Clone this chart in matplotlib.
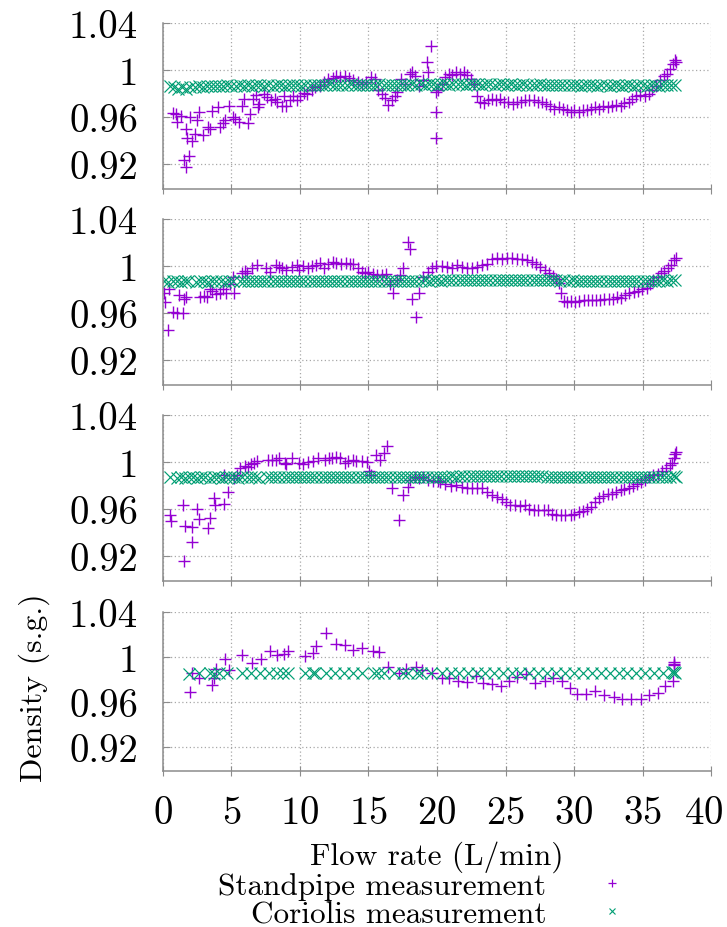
import matplotlib.pyplot as plt
from matplotlib.lines import Line2D
from matplotlib.transforms import ScaledTranslation

plt.rcParams['font.family'] = 'cmr10'
plt.rcParams['mathtext.fontset'] = 'cm'
plt.rcParams['axes.formatter.use_mathtext'] = True

PURPLE = '#9400d3'
GREEN = '#009e73'
GRAY = '#8c8c8c'

y_ticks = [0.92, 0.96, 1.00, 1.04]
y_tick_labels = ['0.92', '0.96', '1', '1.04']
x_ticks = [0, 5, 10, 15, 20, 25, 30, 35, 40]

# ---- panel 1 ----
std1_x = [0.75, 0.95, 1.05, 1.3, 1.5, 1.7, 1.9, 1.7, 1.75, 2.0, 2.1, 2.3, 2.5, 2.65, 2.95,
          3.25, 3.45, 3.55, 4.05, 4.15, 4.35, 4.5, 4.8, 5.1, 5.25, 5.55, 5.8, 5.9, 6.2, 6.35,
          6.55, 6.8, 6.9, 7.0, 7.35, 7.6, 7.85, 8.15, 8.35, 8.7, 8.8, 9.0, 9.3, 9.5, 9.8,
          10.0, 10.3, 10.5, 10.85, 11.1, 11.45, 11.75, 12.05, 12.4, 12.65, 12.9, 13.25, 13.6,
          13.9, 14.25, 14.5, 14.85, 15.2, 15.45, 15.7, 15.95, 16.2, 16.45, 16.7, 16.9, 17.1,
          17.35, 17.65, 18.0, 18.2, 18.4, 18.65, 19.0, 19.25, 19.35, 19.55, 19.9, 19.95, 19.9,
          20.1, 20.35, 20.6, 20.85, 21.1, 21.4, 21.7, 21.95, 22.2, 22.45, 22.7, 22.9, 23.15,
          23.4, 23.7, 24.0, 24.3, 24.6, 24.9, 25.2, 25.55, 25.85, 26.1, 26.45, 26.75, 27.05,
          27.35, 27.65, 27.95, 28.25, 28.55, 28.9, 29.2, 29.5, 29.75, 30.0, 30.35, 30.65,
          30.95, 31.25, 31.55, 31.85, 32.15, 32.45, 32.75, 33.1, 33.4, 33.65, 34.0, 34.25,
          34.55, 34.85, 35.15, 35.45, 35.7, 36.0, 36.3, 36.55, 36.8, 37.0, 37.2, 37.4, 37.45]
std1_y = [0.963, 0.962, 0.9555, 0.9605, 0.923, 0.917, 0.9265, 0.950, 0.942, 0.960, 0.939,
          0.9455, 0.957, 0.964, 0.9445, 0.951, 0.950, 0.965, 0.968, 0.951, 0.955, 0.957, 0.969,
          0.960, 0.958, 0.9555, 0.969, 0.975, 0.955, 0.9625, 0.975, 0.979, 0.968, 0.971,
          0.9795, 0.9765, 0.974, 0.975, 0.9725, 0.9695, 0.978, 0.969, 0.9745, 0.978, 0.974,
          0.9775, 0.980, 0.9795, 0.983, 0.985, 0.9865, 0.9895, 0.992, 0.993, 0.995, 0.994,
          0.995, 0.993, 0.9915, 0.9895, 0.988, 0.990, 0.994, 0.9925, 0.9825, 0.9795, 0.976,
          0.970, 0.974, 0.9775, 0.9815, 0.9925, 0.988, 0.9965, 0.9985, 0.995, 0.9865, 0.991,
          1.0065, 0.9985, 1.0205, 0.981, 0.964, 0.942,
          0.9825, 0.988, 0.994, 0.9965, 0.996, 0.998, 0.9965, 0.998, 0.996, 0.9925, 0.988,
          0.9775, 0.973, 0.972, 0.974, 0.975, 0.974, 0.975, 0.9725, 0.9725, 0.971, 0.9725,
          0.973, 0.974, 0.974, 0.974, 0.973, 0.9725, 0.971, 0.969, 0.967, 0.968, 0.967, 0.966,
          0.964, 0.9655, 0.9645, 0.966, 0.9655, 0.967, 0.968, 0.967, 0.969, 0.968, 0.969,
          0.970, 0.9695, 0.972, 0.973, 0.975, 0.9775, 0.979, 0.978, 0.9795, 0.9825, 0.9865,
          0.991, 0.995, 0.9965, 1.001, 1.005, 1.008, 1.0065]
cor1_x = [0.5, 0.8, 1.1, 1.4, 1.7, 2.0, 2.3, 2.6, 2.9, 3.2,
          3.5, 3.8, 4.1, 4.4, 4.7, 5.0, 5.3, 5.6, 5.9, 6.2,
          6.5, 6.8, 7.1, 7.4, 7.7, 8.0, 8.3, 8.6, 8.9, 9.2,
          9.5, 9.8, 10.1, 10.4, 10.7, 11.0, 11.3, 11.6, 11.9, 12.2,
          12.5, 12.8, 13.1, 13.4, 13.7, 14.0, 14.3, 14.6, 14.9, 15.2,
          15.5, 15.8, 16.1, 16.4, 16.7, 17.0, 17.3, 17.6, 17.9, 18.2,
          18.5, 18.8, 19.1, 19.4, 19.7, 20.0, 20.3, 20.6, 20.9, 21.2,
          21.5, 21.8, 22.1, 22.4, 22.7, 23.0, 23.3, 23.6, 23.9, 24.2,
          24.5, 24.8, 25.1, 25.4, 25.7, 26.0, 26.3, 26.6, 26.9, 27.2,
          27.5, 27.8, 28.1, 28.4, 28.7, 29.0, 29.3, 29.6, 29.9, 30.2,
          30.5, 30.8, 31.1, 31.4, 31.7, 32.0, 32.3, 32.6, 32.9, 33.2,
          33.5, 33.8, 34.1, 34.4, 34.7, 35.0, 35.3, 35.6, 35.9, 36.2,
          36.5, 36.8, 37.1, 37.4]
cor1_y = [0.986, 0.985, 0.984, 0.985, 0.984, 0.985, 0.985, 0.986, 0.985, 0.986,
          0.986, 0.986, 0.986, 0.986, 0.987, 0.986, 0.986, 0.987, 0.986, 0.987,
          0.986, 0.987, 0.987, 0.986, 0.987, 0.986, 0.987, 0.987, 0.986, 0.987,
          0.987, 0.987, 0.986, 0.987, 0.987, 0.987, 0.987, 0.987, 0.987, 0.988,
          0.987, 0.987, 0.987, 0.987, 0.988, 0.987, 0.987, 0.987, 0.987, 0.987,
          0.987, 0.988, 0.987, 0.987, 0.987, 0.987, 0.987, 0.987, 0.987, 0.988,
          0.987, 0.988, 0.987, 0.988, 0.988, 0.987, 0.988, 0.988, 0.987, 0.988,
          0.988, 0.988, 0.987, 0.988, 0.988, 0.988, 0.987, 0.988, 0.988, 0.987,
          0.988, 0.988, 0.987, 0.988, 0.987, 0.987, 0.988, 0.987, 0.987, 0.987,
          0.988, 0.987, 0.987, 0.987, 0.987, 0.987, 0.987, 0.987, 0.987, 0.987,
          0.986, 0.987, 0.987, 0.987, 0.986, 0.987, 0.987, 0.986, 0.987, 0.987,
          0.986, 0.987, 0.987, 0.986, 0.987, 0.987, 0.986, 0.987, 0.987, 0.986,
          0.987, 0.987, 0.987, 0.987]

# ---- panel 2 ----
std2_x = [0.07, 0.15, 0.4, 0.46, 0.7, 1.05, 1.2, 1.45, 1.5, 1.7, 2.7, 3.0, 3.2, 3.4, 3.55,
          3.85, 4.15, 4.4, 4.6, 4.9, 5.1, 5.15, 5.75, 6.0, 6.15, 6.5, 6.85, 7.55, 7.8, 8.25,
          8.5, 8.7, 9.0, 9.4, 9.75, 9.95, 10.25, 10.6, 10.85, 11.15, 11.45, 11.75, 12.05,
          12.4, 12.65, 13.0, 13.35, 13.65, 13.9, 14.25, 14.5, 14.75, 15.0, 15.35, 15.6, 15.95,
          16.3, 16.55, 16.8, 17.05, 17.3, 17.5, 17.9, 18.0, 18.15, 18.5, 18.7, 19.0, 19.35,
          19.6, 19.95,
          20.35, 20.7, 21.1, 21.45, 21.85, 22.2, 22.55, 22.9, 23.3, 23.65, 24.0, 24.4, 24.75,
          25.1, 25.5, 25.85, 26.2, 26.55, 26.95, 27.25, 27.55, 27.85, 28.15, 28.45, 28.7,
          28.9, 29.05, 29.25, 29.5, 29.8, 30.1, 30.4, 30.7, 31.0, 31.3, 31.6, 31.9, 32.2,
          32.55, 32.85, 33.15, 33.45, 33.75, 34.05, 34.35, 34.65, 34.95, 35.3, 35.55, 35.8,
          36.1, 36.35, 36.6, 36.85, 37.1, 37.3, 37.45]
std2_y = [0.9765, 0.9695, 0.945, 0.9805, 0.961, 0.960, 0.975, 0.9595, 0.972, 0.9735, 0.9735,
          0.974, 0.9735, 0.980, 0.9785, 0.976, 0.9765, 0.980, 0.977, 0.9845, 0.9905, 0.9765,
          0.9935, 0.996, 0.994, 0.9985, 1.0005, 0.998, 0.995, 1.0005, 0.999, 0.9985, 0.9965,
          0.999, 1.0005, 0.9965, 0.9995, 0.998, 0.9995, 1.0005, 1.0025, 0.9985, 1.002, 1.0035,
          1.0025, 1.0015, 1.0025, 1.002, 1.0015, 0.9985, 0.995, 0.994, 0.995, 0.993, 0.992,
          0.992, 0.993, 0.9845, 0.977, 0.988, 0.992, 0.998, 1.0205, 1.014, 0.972, 0.9565,
          0.977, 0.9905, 0.995, 0.998, 0.9995,
          0.9995, 0.999, 0.9985, 1.0005, 0.999, 0.9985, 0.998, 0.999, 1.0005, 1.002, 1.006,
          1.007, 1.006, 1.007, 1.007, 1.006, 1.006, 1.005, 1.0035, 1.0015, 0.999, 0.9965,
          0.9935, 0.991, 0.989, 0.985, 0.9765, 0.970, 0.969, 0.970, 0.969, 0.970, 0.971, 0.971,
          0.971, 0.971, 0.9705, 0.972, 0.972, 0.972, 0.9735, 0.973, 0.975, 0.977, 0.978,
          0.979, 0.980, 0.9815, 0.9845, 0.988, 0.9905, 0.9935, 0.9955, 0.998, 1.0005, 1.005,
          1.007]
cor2_x = [0.1, 0.4, 0.7, 1.0, 1.3, 1.6, 1.85, 2.4, 2.7, 3.0,
          3.3, 3.6, 3.9, 4.2, 4.5, 4.8, 5.1, 5.6, 5.9, 6.2,
          6.5, 6.8, 7.1, 7.4, 7.7, 8.0, 8.3, 8.6, 8.9, 9.2,
          9.5, 9.8, 10.1, 10.4, 10.7, 11.0, 11.3, 11.6, 11.9, 12.2,
          12.5, 12.8, 13.1, 13.4, 13.7, 14.0, 14.3, 14.6, 14.9, 15.2,
          15.5, 15.8, 16.1, 16.4, 16.7, 17.0, 17.3, 17.6, 17.9, 18.2,
          18.5, 18.8, 19.1, 19.4, 19.7, 20.0, 20.3, 20.6, 20.9, 21.2,
          21.5, 21.8, 22.1, 22.4, 22.7, 23.0, 23.3, 23.6, 23.9, 24.2,
          24.5, 24.8, 25.1, 25.4, 25.7, 26.0, 26.3, 26.6, 26.9, 27.2,
          27.5, 27.8, 28.1, 28.4, 28.7, 29.0, 29.3, 29.6, 29.9, 30.2,
          30.5, 30.8, 31.1, 31.4, 31.7, 32.0, 32.3, 32.6, 32.9, 33.2,
          33.5, 33.8, 34.1, 34.4, 34.7, 35.0, 35.3, 35.6, 35.9, 36.2,
          36.5, 36.8, 37.1, 37.4]
cor2_y = [0.987, 0.986, 0.987, 0.987, 0.986, 0.987, 0.987, 0.986, 0.987, 0.987,
          0.986, 0.987, 0.987, 0.987, 0.986, 0.987, 0.987, 0.987, 0.987, 0.987,
          0.987, 0.987, 0.987, 0.987, 0.987, 0.987, 0.987, 0.987, 0.987, 0.987,
          0.987, 0.987, 0.987, 0.987, 0.987, 0.987, 0.987, 0.987, 0.987, 0.987,
          0.987, 0.987, 0.987, 0.987, 0.987, 0.987, 0.987, 0.987, 0.987, 0.987,
          0.987, 0.987, 0.987, 0.987, 0.987, 0.987, 0.987, 0.987, 0.987, 0.987,
          0.987, 0.987, 0.988, 0.987, 0.988, 0.988, 0.987, 0.988, 0.988, 0.988,
          0.988, 0.988, 0.988, 0.988, 0.988, 0.988, 0.988, 0.988, 0.988, 0.988,
          0.988, 0.988, 0.988, 0.988, 0.988, 0.988, 0.988, 0.988, 0.988, 0.988,
          0.988, 0.988, 0.988, 0.988, 0.988, 0.987, 0.988, 0.987, 0.988, 0.987,
          0.987, 0.987, 0.987, 0.987, 0.987, 0.987, 0.987, 0.987, 0.987, 0.987,
          0.987, 0.987, 0.987, 0.987, 0.987, 0.987, 0.987, 0.987, 0.987, 0.987,
          0.988, 0.987, 0.988, 0.988]

# ---- panel 3 ----
std3_x = [0.5, 0.55, 1.45, 1.5, 1.6, 2.1, 2.15, 2.5, 2.65, 3.25, 3.45, 3.75, 3.8, 4.45,
          4.45, 4.75, 5.15, 5.4, 5.65, 6.0, 6.2, 6.45, 6.65, 6.85, 7.7, 7.95, 8.25, 8.5, 8.9,
          9.0, 9.4, 9.95, 10.25, 10.6, 10.95, 11.3, 11.8, 12.1, 12.35, 12.6, 12.9, 13.25,
          13.5, 13.85, 14.1, 14.5, 14.9, 15.05, 15.2, 15.55, 15.85, 16.1, 16.35, 16.75, 17.2,
          17.55, 17.85, 18.05, 18.4, 18.7, 19.0, 19.35, 19.7, 20.1,
          20.25, 20.6, 21.0, 21.4, 21.8, 22.2, 22.55, 22.9, 23.3, 23.65, 24.0, 24.4, 24.75,
          25.05, 25.35, 25.7, 26.05, 26.4, 26.7, 27.05, 27.4, 27.8, 28.1, 28.4, 28.7, 29.05,
          29.35, 29.75, 30.0, 30.35, 30.65, 30.95, 31.25, 31.55, 31.85, 32.15, 32.45, 32.75,
          33.1, 33.4, 33.65, 34.0, 34.3, 34.6, 34.9, 35.2, 35.5, 35.8, 36.1, 36.4, 36.75,
          37.0, 37.15, 37.3, 37.4, 37.45]
std3_y = [0.9545, 0.950, 0.963, 0.9155, 0.9455, 0.9315, 0.9445, 0.960, 0.951, 0.944,
          0.9525, 0.969, 0.963, 0.9645, 0.989, 0.9745, 0.986, 0.9885, 0.9945, 0.9965, 0.9955,
          0.998, 0.9995, 1.0005, 1.0015, 1.0015, 1.002, 1.0035, 0.9995, 0.998, 1.003, 0.9995,
          0.998, 1.000, 1.0005, 1.0035, 1.0015, 1.003, 1.0035, 1.004, 1.003, 0.9995, 1.0005,
          1.002, 1.0005, 1.0005, 1.000, 0.992, 0.9885, 1.006, 1.0015, 1.008, 1.0135, 0.978,
          0.9505, 0.9715, 0.9785, 0.985, 0.987, 0.9865, 0.987, 0.985, 0.9835, 0.9835,
          0.9825, 0.9815, 0.9795, 0.980, 0.9785, 0.978, 0.978, 0.978, 0.978, 0.9745, 0.972,
          0.970, 0.968, 0.9655, 0.963, 0.963, 0.9625, 0.9635, 0.960, 0.959, 0.959, 0.959,
          0.959, 0.956, 0.9545, 0.955, 0.9545, 0.955, 0.956, 0.957, 0.958, 0.960, 0.9615,
          0.966, 0.969, 0.971, 0.973, 0.973, 0.9745, 0.976, 0.977, 0.978, 0.9795, 0.981,
          0.9825, 0.985, 0.987, 0.9885, 0.990, 0.992, 0.995, 0.997, 0.9995, 1.0035, 1.007,
          1.0085]
cor3_x = [0.5, 1.0, 1.3, 1.6, 1.9, 2.2, 2.5, 2.8, 3.1, 3.4,
          3.7, 4.0, 4.3, 4.6, 4.9, 5.2, 5.5, 5.8, 6.1, 6.4,
          6.7, 7.0, 7.6, 7.9, 8.2, 8.5, 8.8, 9.1, 9.4, 9.7,
          10.0, 10.3, 10.6, 10.9, 11.2, 11.5, 11.8, 12.1, 12.4, 12.7,
          13.0, 13.3, 13.6, 13.9, 14.2, 14.5, 14.8, 15.1, 15.4, 15.7,
          16.0, 16.3, 16.6, 16.9, 17.2, 17.5, 17.8, 18.1, 18.4, 18.7,
          19.0, 19.3, 19.6, 19.9, 20.2, 20.5, 20.8, 21.1, 21.4, 21.7,
          22.0, 22.3, 22.6, 22.9, 23.2, 23.5, 23.8, 24.1, 24.4, 24.7,
          25.0, 25.3, 25.6, 25.9, 26.2, 26.5, 26.8, 27.1, 27.4, 27.7,
          28.0, 28.3, 28.6, 28.9, 29.2, 29.5, 29.8, 30.1, 30.4, 30.7,
          31.0, 31.3, 31.6, 31.9, 32.2, 32.5, 32.8, 33.1, 33.4, 33.7,
          34.0, 34.3, 34.6, 34.9, 35.2, 35.5, 35.8, 36.1, 36.4, 36.7,
          37.0, 37.3, 37.45]
cor3_y = [0.987, 0.986, 0.987, 0.986, 0.987, 0.987, 0.986, 0.987, 0.987, 0.986,
          0.987, 0.987, 0.986, 0.987, 0.987, 0.987, 0.986, 0.987, 0.987, 0.987,
          0.987, 0.986, 0.987, 0.987, 0.987, 0.987, 0.987, 0.987, 0.987, 0.987,
          0.987, 0.987, 0.987, 0.987, 0.987, 0.987, 0.987, 0.987, 0.987, 0.987,
          0.987, 0.987, 0.987, 0.987, 0.987, 0.987, 0.987, 0.987, 0.987, 0.987,
          0.987, 0.987, 0.987, 0.987, 0.987, 0.987, 0.987, 0.987, 0.987, 0.987,
          0.987, 0.987, 0.987, 0.987, 0.987, 0.987, 0.987, 0.988, 0.987, 0.988,
          0.988, 0.988, 0.988, 0.988, 0.988, 0.988, 0.988, 0.988, 0.988, 0.988,
          0.988, 0.988, 0.988, 0.988, 0.988, 0.988, 0.988, 0.988, 0.988, 0.988,
          0.987, 0.987, 0.987, 0.987, 0.987, 0.987, 0.987, 0.987, 0.987, 0.987,
          0.987, 0.987, 0.987, 0.987, 0.987, 0.987, 0.987, 0.987, 0.987, 0.987,
          0.987, 0.987, 0.987, 0.987, 0.987, 0.987, 0.987, 0.987, 0.987, 0.987,
          0.987, 0.988, 0.987]

# ---- panel 4 ----
std4_x = [2.0, 2.1, 2.65, 3.55, 3.75, 3.85, 4.5, 4.85, 5.75, 6.5, 7.15, 7.8, 8.35, 8.8,
          9.1, 10.35, 10.95, 11.2, 11.9, 12.6, 13.3, 13.9, 14.5, 15.35, 15.75, 16.45, 17.2,
          17.75, 18.5, 18.9, 19.65, 20.35, 20.9, 21.55, 22.2, 22.85, 23.35, 24.0, 24.65,
          25.25, 25.85, 26.5, 27.15, 27.85, 28.45, 29.1, 29.7, 30.25, 30.9, 31.55, 32.2, 32.9,
          33.5, 34.15, 34.9, 35.45, 36.1, 36.65, 37.25, 37.3, 37.3, 37.3]
std4_y = [0.969, 0.986, 0.981, 0.975, 0.981, 0.989, 0.9985, 0.988, 1.0015, 0.9945, 0.9985,
          1.005, 1.002, 1.0025, 1.005, 1.0005, 1.0035, 1.010, 1.021, 1.0115, 1.011, 1.0065,
          1.008, 1.0055, 1.0045, 0.9915, 0.986, 0.9895, 0.9915, 0.988, 0.986, 0.981, 0.981,
          0.979, 0.978, 0.983, 0.977, 0.976, 0.974, 0.979, 0.982, 0.985, 0.977, 0.9785, 0.981,
          0.9785, 0.972, 0.967, 0.967, 0.970, 0.966, 0.964, 0.963, 0.963, 0.963, 0.966, 0.968,
          0.974, 0.9785, 0.9935, 0.9955, 0.993]
cor4_x = [1.93, 2.6, 3.44, 3.7, 4.09, 4.69, 5.78, 6.43, 7.08, 7.73,
          8.33, 8.78, 9.11, 10.34, 10.94, 11.12, 11.9, 12.55, 13.2, 13.85,
          14.5, 15.42, 15.73, 16.15, 16.85, 17.5, 17.9, 18.54, 18.8, 19.58,
          20.36, 21.02, 21.61, 22.24, 22.92, 23.49, 24.14, 24.79, 25.44, 26.09,
          26.74, 27.4, 28.05, 28.7, 29.35, 30.0, 30.65, 31.3, 31.95, 32.6,
          33.26, 33.9, 34.56, 35.2, 35.86, 36.5, 37.16, 37.3, 37.35]
cor4_y = [0.985, 0.986, 0.986, 0.985, 0.986, 0.986, 0.986, 0.986, 0.986, 0.986,
          0.986, 0.986, 0.986, 0.986, 0.986, 0.986, 0.986, 0.986, 0.986, 0.986,
          0.986, 0.986, 0.986, 0.986, 0.986, 0.986, 0.986, 0.986, 0.986, 0.986,
          0.986, 0.986, 0.986, 0.986, 0.986, 0.986, 0.986, 0.986, 0.986, 0.986,
          0.986, 0.986, 0.986, 0.986, 0.986, 0.986, 0.986, 0.986, 0.986, 0.986,
          0.986, 0.986, 0.986, 0.986, 0.986, 0.986, 0.987, 0.987, 0.986]

panels = [(std1_x, std1_y, cor1_x, cor1_y),
          (std2_x, std2_y, cor2_x, cor2_y),
          (std3_x, std3_y, cor3_x, cor3_y),
          (std4_x, std4_y, cor4_x, cor4_y)]

# axes boxes in figure fraction [left, bottom, width, height]
rects = [[0.2242, 0.7953, 0.7538, 0.1789],
         [0.2242, 0.5841, 0.7538, 0.1789],
         [0.2242, 0.3728, 0.7538, 0.1789],
         [0.2242, 0.1681, 0.7538, 0.1713]]

fig = plt.figure(figsize=(7.27, 9.28), dpi=100)

for i, (sx, sy, cx, cy) in enumerate(panels):
    ax = fig.add_axes(rects[i])
    ax.plot(sx, sy, ls='none', marker='+', ms=8, mew=1.0, color=PURPLE)
    ax.plot(cx, cy, ls='none', marker='x', ms=8.5, mew=0.85, color=GREEN)
    ax.set_xlim(0, 40)
    ax.set_ylim(0.8985, 1.04)
    ax.set_xticks(x_ticks)
    ax.set_yticks(y_ticks)
    ax.set_yticklabels(y_tick_labels)
    ax.grid(True, ls=(0, (1, 2)), color='#a8a8a8', lw=0.9)
    for side in ['top', 'right']:
        ax.spines[side].set_visible(False)
    for side in ['left', 'bottom']:
        ax.spines[side].set_color(GRAY)
        ax.spines[side].set_linewidth(1.1)
    ax.tick_params(axis='x', direction='inout', length=7, color=GRAY, labelsize=28, pad=14)
    ax.tick_params(axis='y', direction='in', length=5, color=GRAY, labelsize=28, pad=18)
    if i < 3:
        ax.tick_params(labelbottom=False)
    else:
        # nudge the "40" label left so it stays inside the canvas
        last = ax.xaxis.get_major_ticks()[-1].label1
        last.set_transform(last.get_transform() + ScaledTranslation(-5 / 72, 0, fig.dpi_scale_trans))

fig.text(0.047, 0.259, 'Density (s.g.)', rotation=90, ha='center', va='center', fontsize=23)
fig.text(0.601, 0.0765, 'Flow rate (L/min)', ha='center', va='center', fontsize=22.5)

handles = [Line2D([], [], ls='none', marker='+', ms=6, mew=0.9, color=PURPLE),
           Line2D([], [], ls='none', marker='x', ms=5, mew=0.8, color=GREEN)]
fig.legend(handles, ['Standpipe measurement', 'Coriolis measurement'],
           loc='upper right', bbox_to_anchor=(0.8633, 0.059), frameon=False,
           markerfirst=False, fontsize=22.5, handlelength=1.0, handletextpad=1.6,
           labelspacing=0.0, borderpad=0, borderaxespad=0)

fig.savefig('out.png', dpi=100)
